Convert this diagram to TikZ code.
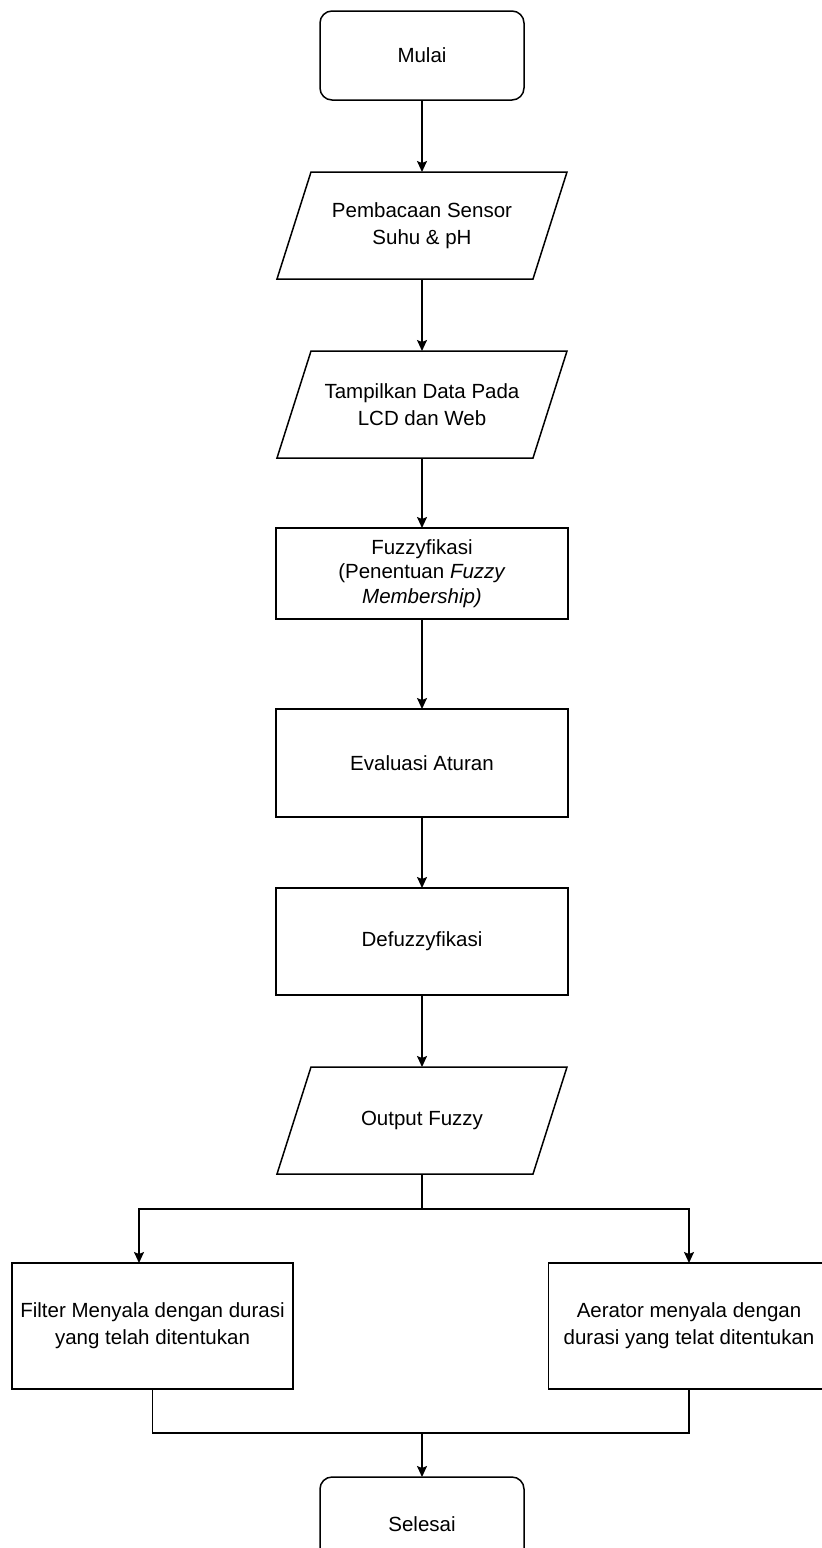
\documentclass[tikz,border=0pt]{standalone}
\usepackage{fontspec}
\setmainfont{Liberation Sans}
\usepackage{tikz}
\usetikzlibrary{positioning,arrows.meta}

\begin{document}
\begin{tikzpicture}[
node distance=36pt,
font=\fontsize{10.25}{13.5}\selectfont,
box/.style={draw, line width=0.75pt, align=center, minimum width=146pt, inner sep=2pt, outer sep=0pt},
term/.style={box, rounded corners=6pt, minimum width=102pt, minimum height=44.5pt},
io/.style={box, draw=none, minimum width=145pt, minimum height=53.5pt},
act/.style={box, minimum width=140.5pt, minimum height=63pt},
arr/.style={-{Stealth[length=5.5pt,width=5pt,inset=1pt]}, line width=0.75pt},
line/.style={line width=0.75pt}
]
\useasboundingbox (0,0) rectangle (411pt,-774pt);
\node[term] (mulai) at (211pt,-27.75pt) {Mulai};
\node[io, below=of mulai] (baca) {Pembacaan Sensor\\Suhu \& pH};
\node[io, below=of baca] (tampil) {Tampilkan Data Pada\\LCD dan Web};
\node[box, minimum height=45.5pt, below=35pt of tampil, font=\fontsize{10.25}{12.3}\selectfont] (fuzzy) {Fuzzyfikasi\\(Penentuan \textit{Fuzzy}\\\textit{Membership)}};
\node[box, minimum height=54pt, below=45pt of fuzzy] (eval) {Evaluasi Aturan};
\node[box, minimum height=53.5pt, below=35.5pt of eval] (defuzzy) {Defuzzyfikasi};
\node[io, below=of defuzzy] (output) {Output Fuzzy};
\coordinate[below=17.5pt of output] (split);
\node[act, below=44.5pt of output, xshift=-134.75pt] (filter) {Filter Menyala dengan durasi\\yang telah ditentukan};
\node[act, below=44.5pt of output, xshift=133.5pt] (aerator) {Aerator menyala dengan\\durasi yang telat ditentukan};
\node[term, minimum height=47pt, below=151.5pt of output] (selesai) {Selesai};
\coordinate[above=22pt of selesai] (merge);
% data (input/output) shapes
\foreach \n in {baca,tampil,output}
  \draw[line] ([xshift=17pt]\n.north west) -- (\n.north east) -- ([xshift=-17pt]\n.south east) -- (\n.south west) -- cycle;
\draw[arr] (mulai) -- (baca);
\draw[arr] (baca) -- (tampil);
\draw[arr] (tampil) -- (fuzzy);
\draw[arr] (fuzzy) -- (eval);
\draw[arr] (eval) -- (defuzzy);
\draw[arr] (defuzzy) -- (output);
\draw[line] (output) -- (split);
\draw[arr] (split) -| ([xshift=-6.75pt]filter.north);
\draw[arr] (split) -| (aerator.north);
\draw[line] (filter.south) |- (merge) -| (aerator.south);
\draw[arr] (merge) -- (selesai);
\end{tikzpicture}
\end{document}
